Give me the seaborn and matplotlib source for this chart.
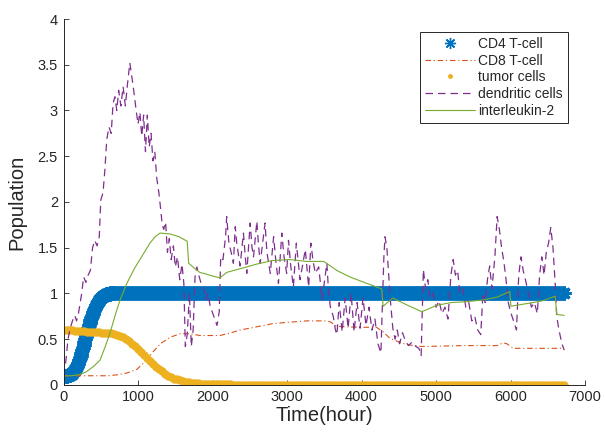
import numpy as np
import pandas as pd
import matplotlib
matplotlib.use("Agg")
import matplotlib.pyplot as plt
from matplotlib.lines import Line2D
from matplotlib.ticker import FuncFormatter
import seaborn as sns

# ---------------- data ----------------
t_grid = list(range(0, 6721, 40))  # sampling grid (hours) for the tumour markers
cd4_t = list(range(0, 680, 10)) + list(range(680, 6721, 40))  # sampling grid for CD4 markers

cd4_vals = [
    # ramp, every 10 h from 0 to 670
    0.100, 0.100, 0.100, 0.100, 0.101, 0.102, 0.104, 0.106, 0.109, 0.113,
    0.118, 0.124, 0.131, 0.139, 0.149, 0.160, 0.173, 0.188, 0.205, 0.224,
    0.245, 0.268, 0.293, 0.320, 0.348, 0.377, 0.407, 0.438, 0.469, 0.500,
    0.531, 0.562, 0.592, 0.621, 0.650, 0.678, 0.705, 0.731, 0.755, 0.778,
    0.800, 0.821, 0.840, 0.858, 0.874, 0.889, 0.903, 0.916, 0.928, 0.938,
    0.948, 0.956, 0.964, 0.970, 0.976, 0.981, 0.985, 0.989, 0.992, 0.994,
    0.996, 0.998, 0.999, 1.000, 1.000, 1.000, 1.000, 1.000,
    # plateau, every 40 h from 680 to 6720
    1.0, 1.0, 1.0, 1.0, 1.0, 1.0, 1.0, 1.0, 1.0, 1.0, 1.0, 1.0, 1.0, 1.0, 1.0, 1.0, 1.0, 1.0, 1.0, 1.0,
    1.0, 1.0, 1.0, 1.0, 1.0, 1.0, 1.0, 1.0, 1.0, 1.0, 1.0, 1.0, 1.0, 1.0, 1.0, 1.0, 1.0, 1.0, 1.0, 1.0,
    1.0, 1.0, 1.0, 1.0, 1.0, 1.0, 1.0, 1.0, 1.0, 1.0, 1.0, 1.0, 1.0, 1.0, 1.0, 1.0, 1.0, 1.0, 1.0, 1.0,
    1.0, 1.0, 1.0, 1.0, 1.0, 1.0, 1.0, 1.0, 1.0, 1.0, 1.0, 1.0, 1.0, 1.0, 1.0, 1.0, 1.0, 1.0, 1.0, 1.0,
    1.0, 1.0, 1.0, 1.0, 1.0, 1.0, 1.0, 1.0, 1.0, 1.0, 1.0, 1.0, 1.0, 1.0, 1.0, 1.0, 1.0, 1.0, 1.0, 1.0,
    1.0, 1.0, 1.0, 1.0, 1.0, 1.0, 1.0, 1.0, 1.0, 1.0, 1.0, 1.0, 1.0, 1.0, 1.0, 1.0, 1.0, 1.0, 1.0, 1.0,
    1.0, 1.0, 1.0, 1.0, 1.0, 1.0, 1.0, 1.0, 1.0, 1.0, 1.0, 1.0, 1.0, 1.0, 1.0, 1.0, 1.0, 1.0, 1.0, 1.0,
    1.0, 1.0, 1.0, 1.0, 1.0, 1.0, 1.0, 1.0, 1.0, 1.0, 1.0, 1.0,
]

tumor_vals = [
    0.60, 0.60, 0.60, 0.60, 0.59, 0.59, 0.59, 0.59, 0.58, 0.58, 0.58, 0.58, 0.58, 0.57, 0.57, 0.57,
    0.57, 0.56, 0.55, 0.54, 0.52, 0.50, 0.48, 0.45, 0.42, 0.39, 0.36, 0.33, 0.29, 0.26, 0.23, 0.20,
    0.17, 0.15, 0.12, 0.10, 0.09, 0.07, 0.06, 0.05, 0.04, 0.035, 0.03, 0.025, 0.02, 0.02, 0.015, 0.015,
    0.01, 0.01, 0.01, 0.008, 0.008, 0.006, 0.006, 0.005, 0.005, 0.004, 0.004, 0.003, 0.003, 0.003,
    0.002, 0.002, 0.002, 0.002, 0.001, 0.001, 0.001, 0.001, 0.001, 0.001, 0.001, 0.001, 0.0, 0.0,
    0.0, 0.0, 0.0, 0.0, 0.0, 0.0, 0.0, 0.0, 0.0, 0.0, 0.0, 0.0, 0.0, 0.0, 0.0, 0.0, 0.0, 0.0, 0.0,
    0.0, 0.0, 0.0, 0.0, 0.0, 0.0, 0.0, 0.0, 0.0, 0.0, 0.0, 0.0, 0.0, 0.0, 0.0, 0.0, 0.0, 0.0, 0.0,
    0.0, 0.0, 0.0, 0.0, 0.0, 0.0, 0.0, 0.0, 0.0, 0.0, 0.0, 0.0, 0.0, 0.0, 0.0, 0.0, 0.0, 0.0, 0.0,
    0.0, 0.0, 0.0, 0.0, 0.0, 0.0, 0.0, 0.0, 0.0, 0.0, 0.0, 0.0, 0.0, 0.0, 0.0, 0.0, 0.0, 0.0, 0.0,
    0.0, 0.0, 0.0, 0.0, 0.0, 0.0, 0.0, 0.0, 0.0, 0.0, 0.0, 0.0, 0.0, 0.0, 0.0, 0.0, 0.0,
]

cd8_t = [0, 200, 400, 600, 715, 850, 985, 1100, 1200, 1300, 1430, 1565, 1700, 1830, 1920, 2100,
         2250, 2370, 2500, 2810, 2950, 3260, 3500, 3580, 3670, 3980, 4200, 4290, 4380, 4500, 4610,
         4810, 5400, 5820, 5900, 5950, 6040, 6430, 6600, 6720]
cd8_y = [0.10, 0.10, 0.10, 0.10, 0.11, 0.13, 0.17, 0.26, 0.36, 0.45, 0.52, 0.56, 0.56, 0.54, 0.54,
         0.54, 0.57, 0.60, 0.62, 0.67, 0.68, 0.70, 0.70, 0.69, 0.64, 0.63, 0.63, 0.58, 0.51, 0.47,
         0.44, 0.42, 0.43, 0.43, 0.46, 0.45, 0.40, 0.40, 0.40, 0.40]

il2_t = [0, 100, 200, 300, 400, 490, 560, 625, 700, 760, 850, 950, 1025, 1100, 1160, 1230, 1295,
         1430, 1550, 1660, 1680, 1750, 1830, 1920, 2000, 2100, 2190, 2370, 2590, 2810, 3040, 3260,
         3490, 3530, 3670, 3845, 4070, 4270, 4290, 4420, 4620, 4810, 5010, 5200, 5410, 5640, 5820,
         5930, 5990, 6005, 6150, 6300, 6430, 6600, 6620, 6720]
il2_y = [0.10, 0.10, 0.11, 0.14, 0.20, 0.27, 0.42, 0.57, 0.78, 0.93, 1.11, 1.27, 1.37, 1.47, 1.55,
         1.62, 1.66, 1.65, 1.62, 1.57, 1.33, 1.28, 1.23, 1.21, 1.19, 1.17, 1.23, 1.27, 1.32, 1.36,
         1.37, 1.35, 1.35, 1.33, 1.25, 1.18, 1.11, 1.05, 0.86, 0.95, 0.87, 0.80, 0.87, 0.90, 0.91,
         0.93, 0.96, 1.00, 1.02, 0.86, 0.88, 0.90, 0.92, 0.97, 0.77, 0.76]

dend_t = [0, 30, 60, 90, 120, 150, 175, 200, 240, 270, 300, 330, 360, 390, 420, 450, 480, 500, 530,
          555, 580, 610, 640, 665, 690, 715, 740, 770, 800, 830, 860, 890, 915, 945, 975, 1000,
          1025, 1050, 1075, 1100, 1125, 1150, 1175, 1200, 1225, 1250, 1280, 1300, 1325, 1345, 1370,
          1395, 1420, 1445, 1475, 1500, 1530, 1560, 1590, 1615, 1635, 1660, 1690, 1715, 1740, 1765,
          1790, 1815, 1850, 1880, 1910, 1940, 1970, 2000, 2030, 2060, 2090, 2110, 2140, 2175, 2190,
          2220, 2250, 2280, 2305, 2325, 2370, 2415, 2440, 2460, 2505, 2530, 2550, 2595, 2615, 2640,
          2705, 2730, 2775, 2820, 2850, 2885, 2930, 2960, 2995, 3020, 3050, 3085, 3125, 3150, 3175,
          3245, 3270, 3290, 3320, 3350, 3380, 3425, 3450, 3470, 3535, 3555, 3580, 3620, 3650, 3670,
          3700, 3740, 3780, 3820, 3860, 3900, 3940, 3980, 4020, 4060, 4100, 4140, 4180, 4220, 4260,
          4300, 4315, 4340, 4365, 4390, 4420, 4450, 4480, 4510, 4550, 4590, 4630, 4680, 4730, 4770,
          4800, 4830, 4860, 4890, 4920, 4960, 5000, 5040, 5080, 5120, 5160, 5200, 5230, 5260, 5290,
          5320, 5360, 5400, 5440, 5480, 5520, 5560, 5600, 5630, 5660, 5690, 5720, 5750, 5790, 5820,
          5850, 5880, 5910, 5940, 5970, 6000, 6040, 6080, 6110, 6140, 6170, 6200, 6240, 6280, 6320,
          6360, 6390, 6420, 6450, 6480, 6510, 6540, 6570, 6600, 6620, 6650, 6690, 6720]
dend_y = [0.10, 0.25, 0.50, 0.62, 0.70, 0.76, 0.70, 0.78, 0.98, 1.18, 1.12, 1.20, 1.25, 1.50, 1.58,
          1.52, 1.62, 2.02, 2.10, 2.35, 2.68, 2.82, 2.75, 3.08, 3.15, 3.00, 3.22, 3.05, 3.26, 3.05,
          3.30, 3.52, 3.38, 3.20, 3.00, 2.85, 2.98, 2.72, 2.95, 2.55, 2.95, 2.60, 2.75, 2.45, 2.55,
          2.27, 2.10, 1.95, 1.75, 1.70, 1.78, 1.45, 1.60, 1.37, 1.52, 1.29, 1.40, 1.15, 1.32, 1.11,
          0.42, 0.55, 1.00, 0.42, 0.60, 1.18, 1.29, 1.20, 1.10, 1.07, 0.93, 1.00, 0.85, 0.79, 0.72,
          0.65, 0.80, 1.40, 1.37, 1.62, 1.84, 1.55, 1.45, 1.33, 1.73, 1.55, 1.30, 1.66, 1.40, 1.22,
          1.77, 1.50, 1.40, 1.79, 1.55, 1.33, 1.77, 1.45, 1.22, 1.62, 1.35, 1.11, 1.66, 1.40, 1.22,
          1.58, 1.30, 1.07, 1.55, 1.35, 1.15, 1.48, 1.25, 1.07, 1.55, 1.35, 1.22, 1.29, 1.10, 0.93,
          1.33, 1.05, 0.86, 0.75, 0.60, 0.55, 0.90, 0.58, 0.95, 0.62, 1.00, 0.58, 0.90, 0.62, 0.95,
          0.65, 0.85, 0.60, 0.72, 0.45, 0.35, 1.40, 1.62, 1.50, 1.20, 0.90, 0.62, 0.50, 0.60, 0.45,
          0.57, 0.48, 0.43, 0.47, 0.42, 0.40, 0.32, 1.26, 1.05, 1.15, 0.95, 1.00, 0.85, 0.92, 0.78,
          0.85, 0.72, 1.20, 1.37, 1.20, 1.25, 1.00, 1.05, 0.85, 0.90, 0.70, 0.75, 0.60, 0.55, 1.00,
          0.90, 1.15, 1.30, 1.05, 1.40, 1.84, 1.70, 1.50, 1.35, 1.15, 0.90, 0.80, 0.70, 0.60, 1.20,
          1.40, 1.25, 1.15, 1.00, 0.85, 0.90, 0.78, 1.20, 1.40, 1.20, 1.45, 1.55, 1.72, 1.50, 1.10,
          0.75, 0.60, 0.45, 0.38]

labels = ["CD4 T-cell", "CD8 T-cell", "tumor cells", "dendritic cells", "interleukin-2"]
x_ticks = [0, 1000, 2000, 3000, 4000, 5000, 6000, 7000]
y_ticks = [0, 0.5, 1, 1.5, 2, 2.5, 3, 3.5, 4]

# ---------------- style ----------------
sns.set_style("ticks")
plt.rcParams['font.family'] = ['Liberation Sans', 'DejaVu Sans']

c_cd4 = "#0072BD"
c_cd8 = "#D95319"
c_tum = "#EDB120"
c_den = "#7E2F8E"
c_il2 = "#77AC30"

fig = plt.figure(figsize=(6.05, 4.32), dpi=100)
ax = fig.add_axes([0.105, 0.109, 0.862, 0.847])

df_cd4 = pd.DataFrame({"t": cd4_t, "y": cd4_vals})
df_tum = pd.DataFrame({"t": t_grid, "y": tumor_vals})
df_cd8 = pd.DataFrame({"t": cd8_t, "y": cd8_y})
df_il2 = pd.DataFrame({"t": il2_t, "y": il2_y})
df_den = pd.DataFrame({"t": dend_t, "y": dend_y})

asterisk = (8, 2, 0)

sns.lineplot(data=df_cd4, x="t", y="y", ax=ax, color=c_cd4, linestyle="none",
             marker=asterisk, markersize=10, markeredgecolor=c_cd4, markeredgewidth=2.2,
             estimator=None, sort=False)
sns.lineplot(data=df_cd8, x="t", y="y", ax=ax, color=c_cd8, linewidth=0.8,
             linestyle=(0, (5, 2.5, 1, 2.5)), estimator=None, sort=False)
sns.lineplot(data=df_tum, x="t", y="y", ax=ax, color=c_tum, linestyle="none",
             marker="o", markersize=5.2, markeredgecolor=c_tum, markeredgewidth=0.8,
             estimator=None, sort=False)
sns.lineplot(data=df_den, x="t", y="y", ax=ax, color=c_den, linewidth=0.9,
             linestyle=(0, (6, 4)), estimator=None, sort=False)
sns.lineplot(data=df_il2, x="t", y="y", ax=ax, color=c_il2, linewidth=0.8,
             estimator=None, sort=False)

ax.set_xlim(0, 7000)
ax.set_ylim(0, 4)
ax.set_xticks(x_ticks)
ax.set_yticks(y_ticks)
ax.yaxis.set_major_formatter(FuncFormatter(lambda v, p: ("%g" % v)))
ax.set_xlabel("Time(hour)", fontsize=14.5, color="#262626", labelpad=1)
ax.set_ylabel("Population", fontsize=14.5, color="#262626", labelpad=8)
ax.tick_params(direction="in", length=3.5, width=0.6, colors="#262626",
               labelsize=10.5, pad=4)
for s in ["top", "right"]:
    ax.spines[s].set_visible(False)
for s in ["left", "bottom"]:
    ax.spines[s].set_color("#262626")
    ax.spines[s].set_linewidth(0.7)

handles = [
    Line2D([], [], color=c_cd4, linestyle="none", marker=asterisk, markersize=8,
           markeredgecolor=c_cd4, markeredgewidth=1.0),
    Line2D([], [], color=c_cd8, linewidth=0.8, linestyle=(0, (5, 2.5, 1, 2.5))),
    Line2D([], [], color=c_tum, linestyle="none", marker="o", markersize=2.5,
           markeredgecolor=c_tum),
    Line2D([], [], color=c_den, linewidth=0.9, linestyle=(0, (6, 4))),
    Line2D([], [], color=c_il2, linewidth=0.8),
]
leg = ax.legend(handles, labels, loc="upper left", bbox_to_anchor=(0.684, 0.9645),
                fontsize=10, frameon=True, fancybox=False, edgecolor="#262626",
                framealpha=1, handlelength=3.6, handletextpad=0.2, labelspacing=0.19,
                borderpad=0.36, borderaxespad=0, numpoints=1)
leg.get_frame().set_linewidth(0.7)

fig.savefig("out.png", dpi=100)
